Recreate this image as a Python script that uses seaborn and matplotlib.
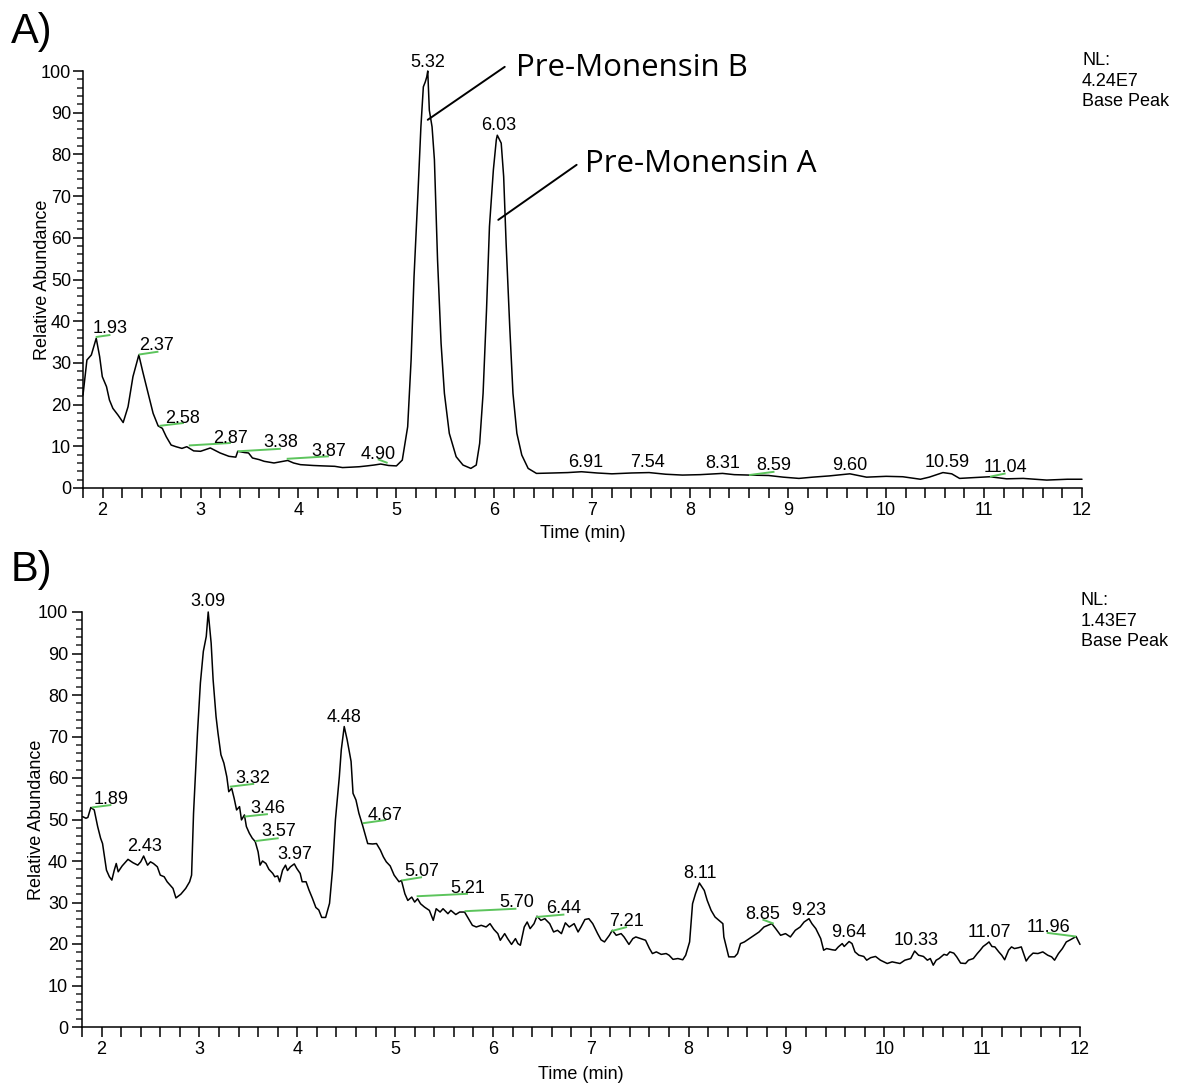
import numpy as np
import pandas as pd
import matplotlib
matplotlib.use("Agg")
import matplotlib.pyplot as plt
from matplotlib.ticker import MultipleLocator
import seaborn as sns

# ---------------- Panel A: base peak chromatogram ----------------
time_a = [1.80, 1.84, 1.885, 1.935, 1.97, 1.997, 2.04, 2.07, 2.105, 2.157, 2.21, 2.26,
          2.31, 2.37, 2.41, 2.465, 2.516, 2.567, 2.61, 2.65, 2.70, 2.75, 2.81, 2.86,
          2.93, 3.00, 3.05, 3.10, 3.15, 3.20, 3.29, 3.36, 3.38, 3.45, 3.49, 3.53,
          3.60, 3.65, 3.75, 3.82, 3.89, 3.95, 4.02, 4.15, 4.25, 4.37, 4.45, 4.54,
          4.62, 4.70, 4.77, 4.84, 4.92, 5.00, 5.06, 5.115, 5.15, 5.18, 5.22, 5.25,
          5.275, 5.295, 5.31, 5.32, 5.336, 5.364, 5.388, 5.42, 5.456, 5.49, 5.54, 5.61,
          5.68, 5.76, 5.815, 5.85, 5.885, 5.92, 5.95, 5.99, 6.02, 6.03, 6.07, 6.095,
          6.12, 6.157, 6.19, 6.23, 6.28, 6.345, 6.43, 6.60, 6.75, 6.89, 7.05, 7.20,
          7.40, 7.58, 7.75, 7.92, 8.10, 8.33, 8.45, 8.60, 8.80, 8.95, 9.11, 9.25,
          9.42, 9.63, 9.80, 10.00, 10.17, 10.35, 10.44, 10.58, 10.67, 10.75, 10.90,
          11.06, 11.23, 11.40, 11.64, 11.85, 12.00]
abund_a = [22.3, 30.7, 31.9, 35.9, 31.5, 26.7, 24.3, 21.1, 19.1, 17.5, 15.7, 19.5,
           26.7, 31.9, 27.9, 22.7, 17.9, 14.9, 14.3, 12.3, 10.3, 9.9, 9.5, 9.9,
           8.9, 8.8, 9.2, 9.6, 9.0, 8.4, 7.6, 7.4, 8.8, 8.5, 8.4, 7.2,
           6.8, 6.4, 6.0, 6.3, 6.6, 6.0, 5.6, 5.4, 5.3, 5.2, 4.9, 5.0,
           5.1, 5.3, 5.5, 5.75, 5.4, 5.3, 6.7, 14.7, 30.7, 50.7, 70.7, 86.6,
           96.2, 97.4, 98.6, 100.0, 90.6, 86.6, 78.7, 54.7, 34.7, 22.7, 13.1, 7.5,
           5.5, 4.7, 5.5, 10.7, 22.7, 42.7, 62.7, 76.3, 83.5, 84.6, 82.7, 74.7,
           58.7, 38.7, 22.7, 13.1, 7.9, 4.7, 3.5, 3.6, 3.7, 3.9, 3.6, 3.4,
           3.6, 3.7, 3.3, 3.1, 3.2, 3.5, 3.2, 3.1, 3.0, 2.6, 2.3, 2.6,
           2.9, 3.4, 2.6, 2.8, 2.7, 2.1, 2.6, 3.7, 3.4, 2.3, 2.5,
           2.7, 2.2, 2.3, 1.9, 2.1, 2.1]

labels_a = ["1.93", "2.37", "2.58", "2.87", "3.38", "3.87", "4.90", "5.32",
            "6.03", "6.91", "7.54", "8.31", "8.59", "9.60", "10.59", "11.04"]
label_x_a = [2.08, 2.55, 2.82, 3.31, 3.82, 4.31, 4.81, 5.32,
             6.04, 6.93, 7.56, 8.33, 8.85, 9.63, 10.62, 11.22]
label_y_a = [37.1, 33.0, 15.7, 10.9, 9.8, 7.7, 7.0, 101.0,
             85.9, 5.1, 5.1, 4.7, 4.3, 4.3, 5.1, 3.9]

green_a_x0 = [1.93, 2.37, 2.58, 2.88, 3.38, 3.88, 4.81, 8.60, 11.06]
green_a_y0 = [36.2, 32.0, 14.9, 10.2, 8.8, 7.0, 6.9, 3.1, 2.7]
green_a_x1 = [2.08, 2.57, 2.83, 3.31, 3.82, 4.31, 4.91, 8.86, 11.22]
green_a_y1 = [36.7, 32.7, 15.6, 10.8, 9.4, 7.6, 6.0, 3.9, 3.5]

compound_names = ["Pre-Monensin B", "Pre-Monensin A"]
compound_line_x = [(5.32, 6.106), (6.04, 6.84)]
compound_line_y = [(88.3, 101.0), (64.3, 77.5)]
compound_text_x = [6.22, 6.93]
compound_text_y = [98.8, 75.85]

# ---------------- Panel B: base peak chromatogram ----------------
time_b = [1.806, 1.84, 1.86, 1.89, 1.925, 1.96, 1.99, 2.01, 2.03, 2.05, 2.08, 2.105,
          2.13, 2.15, 2.17, 2.21, 2.27, 2.32, 2.37, 2.40, 2.43, 2.47, 2.50, 2.53,
          2.57, 2.60, 2.64, 2.67, 2.73, 2.76, 2.81, 2.86, 2.90, 2.92, 2.94, 2.98,
          3.01, 3.04, 3.07, 3.09, 3.12, 3.14, 3.17, 3.19, 3.22, 3.25, 3.28, 3.30,
          3.33, 3.355, 3.38, 3.41, 3.43, 3.46, 3.48, 3.51, 3.54, 3.57, 3.60, 3.62,
          3.645, 3.68, 3.71, 3.75, 3.77, 3.80, 3.82, 3.85, 3.88, 3.90, 3.93, 3.97,
          3.995, 4.03, 4.05, 4.09, 4.12, 4.155, 4.19, 4.22, 4.25, 4.29, 4.33, 4.36,
          4.39, 4.43, 4.45, 4.48, 4.51, 4.55, 4.57, 4.60, 4.63, 4.67, 4.69, 4.72,
          4.77, 4.81, 4.85, 4.88, 4.91, 4.95, 4.99, 5.04, 5.065, 5.10, 5.13, 5.17,
          5.20, 5.23, 5.26, 5.30, 5.35, 5.39, 5.42, 5.46, 5.49, 5.54, 5.57, 5.62,
          5.66, 5.71, 5.74, 5.79, 5.83, 5.88, 5.93, 5.97, 6.01, 6.05, 6.075, 6.12,
          6.15, 6.19, 6.23, 6.255, 6.28, 6.32, 6.35, 6.38, 6.42, 6.45, 6.49, 6.53,
          6.58, 6.62, 6.66, 6.70, 6.74, 6.78, 6.83, 6.87, 6.90, 6.94, 6.98, 7.02,
          7.07, 7.105, 7.14, 7.19, 7.22, 7.26, 7.31, 7.34, 7.39, 7.43, 7.46, 7.51,
          7.56, 7.60, 7.63, 7.67, 7.72, 7.77, 7.80, 7.84, 7.89, 7.94, 7.97, 8.01,
          8.04, 8.07, 8.11, 8.16, 8.19, 8.23, 8.27, 8.31, 8.35, 8.36, 8.41, 8.47,
          8.50, 8.53, 8.57, 8.62, 8.67, 8.72, 8.77, 8.81, 8.85, 8.89, 8.94, 8.99,
          9.04, 9.09, 9.14, 9.18, 9.23, 9.26, 9.30, 9.35, 9.38, 9.41, 9.47, 9.50,
          9.53, 9.57, 9.59, 9.64, 9.67, 9.70, 9.74, 9.79, 9.82, 9.86, 9.91, 9.96,
          10.03, 10.08, 10.16, 10.21, 10.27, 10.31, 10.35, 10.40, 10.44, 10.47, 10.50, 10.53,
          10.56, 10.61, 10.64, 10.67, 10.71, 10.74, 10.78, 10.83, 10.86, 10.91, 10.95, 10.98,
          11.01, 11.05, 11.07, 11.10, 11.13, 11.17, 11.20, 11.23, 11.27, 11.30, 11.33, 11.37,
          11.40, 11.45, 11.48, 11.52, 11.57, 11.62, 11.67, 11.71, 11.74, 11.78, 11.82, 11.86,
          11.90, 11.96, 12.00]
abund_b = [50.7, 50.3, 50.5, 52.9, 52.3, 48.3, 45.5, 44.2, 41.0, 37.8, 36.2, 35.4,
           37.8, 39.4, 37.4, 38.8, 40.4, 39.6, 39.0, 39.8, 41.2, 39.0, 39.8, 39.4,
           38.6, 36.6, 36.2, 35.0, 33.4, 31.1, 32.0, 33.4, 35.0, 36.6, 51.5, 70.8,
           82.9, 90.5, 94.1, 100.0, 92.5, 83.7, 74.8, 70.8, 65.6, 63.6, 60.3, 56.7,
           57.5, 55.1, 52.3, 53.1, 49.9, 51.1, 48.3, 46.7, 45.5, 44.7, 42.2, 39.0,
           40.0, 39.4, 38.0, 37.0, 36.2, 36.4, 35.0, 37.8, 39.0, 37.7, 38.6, 39.3,
           38.2, 37.0, 35.0, 35.0, 33.0, 31.0, 28.8, 28.2, 26.4, 26.4, 29.8, 37.8,
           49.9, 60.3, 66.8, 72.4, 69.2, 64.0, 56.3, 54.7, 51.5, 48.4, 46.7, 44.2,
           44.1, 44.2, 42.6, 41.0, 39.8, 38.8, 36.6, 35.0, 35.3, 32.1, 30.5, 31.3,
           30.1, 30.9, 29.7, 28.9, 28.1, 25.7, 28.5, 27.7, 28.5, 27.3, 28.1, 27.1,
           27.7, 27.7, 26.5, 24.5, 24.1, 24.5, 24.1, 24.9, 23.5, 22.5, 20.9, 22.5,
           21.3, 19.9, 21.3, 20.1, 19.7, 24.1, 25.3, 23.7, 24.9, 26.7, 25.7, 26.1,
           24.9, 22.9, 23.3, 22.5, 25.1, 24.1, 24.9, 22.9, 24.1, 25.9, 26.1, 24.9,
           22.5, 21.0, 20.5, 22.1, 23.3, 22.1, 22.5, 21.7, 19.9, 21.3, 21.7, 21.3,
           20.9, 18.9, 17.7, 18.1, 17.5, 17.7, 17.3, 16.3, 16.5, 16.2, 17.3, 20.5,
           29.7, 32.1, 34.7, 32.9, 30.5, 28.1, 26.5, 25.7, 24.9, 21.7, 16.9, 16.9,
           17.7, 20.1, 20.5, 21.3, 22.1, 22.9, 24.1, 24.5, 24.9, 23.7, 22.1, 22.5,
           21.7, 23.3, 24.1, 25.3, 26.1, 24.9, 23.7, 21.3, 18.5, 18.9, 18.6, 18.5,
           19.3, 20.1, 19.4, 20.6, 20.1, 18.1, 17.3, 17.0, 16.1, 16.7, 17.0, 16.1,
           15.3, 15.7, 15.3, 16.1, 16.5, 18.3, 17.3, 17.0, 16.1, 16.5, 14.9, 16.1,
           16.5, 17.5, 17.3, 18.1, 17.8, 16.9, 15.4, 15.3, 16.1, 16.5, 17.7, 18.5,
           19.4, 20.1, 20.5, 19.4, 19.3, 18.1, 17.3, 16.2, 18.5, 19.3, 18.9, 19.1,
           19.3, 15.9, 16.9, 17.8, 17.7, 18.1, 17.3, 16.9, 16.1, 17.7, 18.9, 20.5,
           21.0, 21.8, 19.9]

labels_b = ["1.89", "2.43", "3.09", "3.32", "3.46", "3.57", "3.97", "4.48", "4.67",
            "5.07", "5.21", "5.70", "6.44", "7.21", "8.11", "8.85", "9.23", "9.64",
            "10.33", "11.07", "11.96"]
label_x_b = [2.095, 2.44, 3.09, 3.55, 3.70, 3.81, 3.97, 4.48, 4.90,
             5.27, 5.74, 6.24, 6.72, 7.36, 8.12, 8.755, 9.23, 9.64,
             10.33, 11.07, 11.68]
label_y_b = [53.7, 42.5, 101.4, 58.7, 51.6, 46.0, 40.6, 73.6, 50.0,
             36.3, 32.3, 28.9, 27.5, 24.3, 35.9, 26.1, 27.1, 21.8,
             19.7, 21.7, 22.9]

green_b_x0 = [1.90, 3.31, 3.46, 3.57, 4.67, 5.065, 5.22, 5.71, 6.44, 7.21, 8.755, 11.66]
green_b_y0 = [52.9, 57.9, 50.7, 44.8, 49.1, 35.3, 31.5, 27.9, 26.5, 23.1, 25.9, 22.7]
green_b_x1 = [2.10, 3.56, 3.70, 3.81, 4.91, 5.275, 5.745, 6.24, 6.73, 7.37, 8.87, 11.96]
green_b_y1 = [53.5, 58.6, 51.3, 45.5, 49.9, 36.1, 32.1, 28.5, 27.1, 24.1, 24.9, 21.8]

nl_a = "NL:\n4.24E7\nBase Peak"
nl_b = "NL:\n1.43E7\nBase Peak"

GREEN = "#5cc45c"
FS = 13

sns.set_theme(style="ticks")
plt.rcParams["font.family"] = ["Liberation Sans", "DejaVu Sans"]
plt.rcParams["axes.linewidth"] = 1.1

fig = plt.figure(figsize=(11.79, 10.86), dpi=100)
W, H = 1179, 1086


def draw_panel(ax, times, values, labels, lab_x, lab_y,
               gx0, gy0, gx1, gy1, ylab_x, ytick_pad, xlab_y):
    df = pd.DataFrame({"Time (min)": times, "Relative Abundance": values})
    sns.lineplot(data=df, x="Time (min)", y="Relative Abundance", ax=ax,
                 color="black", linewidth=1.1, sort=False, estimator=None)
    for ln in ax.lines:
        ln.set_clip_on(False)
        ln.set_solid_joinstyle("round")
    for x0, y0, x1, y1 in zip(gx0, gy0, gx1, gy1):
        ax.plot([x0, x1], [y0, y1], color=GREEN, lw=1.4,
                solid_capstyle="butt", zorder=3)
    for lab, x, y in zip(labels, lab_x, lab_y):
        ax.text(x, y, lab, ha="center", va="baseline", fontsize=FS,
                color="black", zorder=4)

    ax.set_xlim(1.8, 12)
    ax.set_ylim(0, 100)
    ax.xaxis.set_major_locator(MultipleLocator(1))
    ax.xaxis.set_minor_locator(MultipleLocator(0.2))
    ax.yaxis.set_major_locator(MultipleLocator(10))
    ax.yaxis.set_minor_locator(MultipleLocator(2))
    ax.tick_params(axis="x", which="both", length=7, width=1.1,
                   direction="out", pad=3, labelsize=FS, colors="black")
    ax.tick_params(axis="y", which="major", length=7, width=1.1,
                   direction="out", pad=ytick_pad, labelsize=FS, colors="black")
    ax.tick_params(axis="y", which="minor", length=4.5, width=1.1,
                   direction="out")
    sns.despine(ax=ax)
    for side in ("left", "bottom"):
        ax.spines[side].set_color("black")
    ax.set_xlabel("Time (min)", fontsize=FS, color="black")
    ax.set_ylabel("Relative Abundance", fontsize=FS, color="black")
    ax.xaxis.set_label_coords(0.5, xlab_y)
    ax.yaxis.set_label_coords(ylab_x, 0.5)
    ax.grid(False)
    ax.set_facecolor("white")


# Panel A
ax_a = fig.add_axes([83 / W, 1 - 488 / H, 999 / W, 417 / H])
draw_panel(ax_a, time_a, abund_a, labels_a, label_x_a, label_y_a,
           green_a_x0, green_a_y0, green_a_x1, green_a_y1,
           ylab_x=-0.0325, ytick_pad=1.5, xlab_y=-0.088)

for name, lx, ly, tx, ty in zip(compound_names, compound_line_x, compound_line_y,
                                compound_text_x, compound_text_y):
    ax_a.plot(list(lx), list(ly), color="black", lw=1.4, clip_on=False, zorder=4)
    ax_a.text(tx, ty, name, ha="left", va="baseline", fontsize=22.5,
              family=["Open Sans", "DejaVu Sans"], color="black", clip_on=False)

# Panel B
ax_b = fig.add_axes([82 / W, 1 - 1027 / H, 998 / W, 415 / H])
draw_panel(ax_b, time_b, abund_b, labels_b, label_x_b, label_y_b,
           green_b_x0, green_b_y0, green_b_x1, green_b_y1,
           ylab_x=-0.0366, ytick_pad=3, xlab_y=-0.093)

# Normalisation level notes
fig.text(1082 / W, 1 - 52 / H, nl_a, ha="left", va="top", fontsize=FS,
         linespacing=1.28, color="black")
fig.text(1081 / W, 1 - 592 / H, nl_b, ha="left", va="top", fontsize=FS,
         linespacing=1.28, color="black")

# Panel letters
fig.text(11 / W, 1 - 43 / H, "A)", ha="left", va="baseline", fontsize=30,
         color="black")
fig.text(11 / W, 1 - 581 / H, "B)", ha="left", va="baseline", fontsize=30,
         color="black")

fig.savefig("out.png", dpi=100, facecolor="white")
